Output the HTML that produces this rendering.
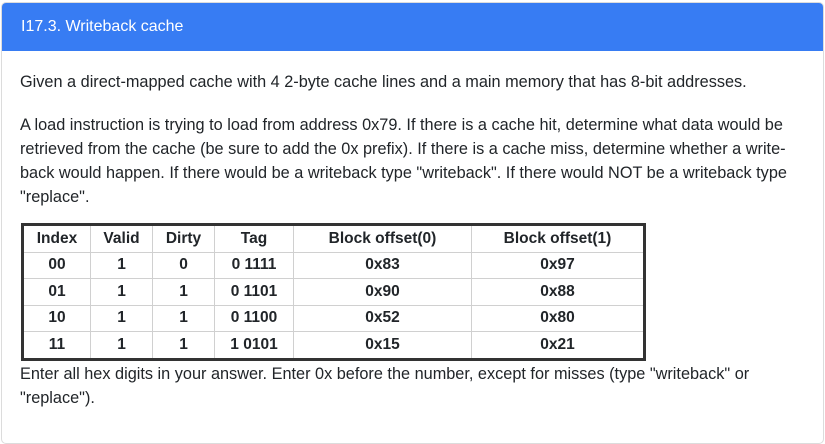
<!DOCTYPE html>
<html><head><style>
body{margin:0;width:825px;height:423px;background:#fff;font-family:"Liberation Sans",Arial,sans-serif;color:#212529;overflow:hidden;position:relative}
.card{position:absolute;left:1px;top:2px;width:821px;height:440px;border:1px solid #dcdcdc;border-radius:5px;overflow:hidden}
.hd{position:absolute;left:0;top:0;width:821px;height:48px;background:#377cf3;color:#fff;font-size:16px;line-height:48px;padding-left:19px;box-sizing:border-box}
.t{position:absolute;left:20px;font-size:16.3px;white-space:nowrap;line-height:24px}
table{position:absolute;left:21px;top:223px;border-collapse:collapse;border:3px solid #333;font-size:15.5px;font-weight:bold}
td{border:1px solid #d0d0d0;text-align:center;padding:0;height:25.5px}
</style></head><body>
<div class="card"><div class="hd">I17.3. Writeback cache</div></div>
<div class="t" style="top:70px">Given a direct-mapped cache with 4 2-byte cache lines and a main memory that has 8-bit addresses.</div>
<div class="t" style="top:113px">A load instruction is trying to load from address 0x79. If there is a cache hit, determine what data would be</div>
<div class="t" style="top:137px">retrieved from the cache (be sure to add the 0x prefix). If there is a cache miss, determine whether a write-</div>
<div class="t" style="top:161px">back would happen. If there would be a writeback type "writeback". If there would NOT be a writeback type</div>
<div class="t" style="top:185px">"replace".</div>
<table>
<tr><td style="width:66px">Index</td><td style="width:61px">Valid</td><td style="width:61px">Dirty</td><td style="width:78px">Tag</td><td style="width:177px">Block offset(0)</td><td style="width:171px">Block offset(1)</td></tr>
<tr><td>00</td><td>1</td><td>0</td><td>0 1111</td><td>0x83</td><td>0x97</td></tr>
<tr><td>01</td><td>1</td><td>1</td><td>0 1101</td><td>0x90</td><td>0x88</td></tr>
<tr><td>10</td><td>1</td><td>1</td><td>0 1100</td><td>0x52</td><td>0x80</td></tr>
<tr><td>11</td><td>1</td><td>1</td><td>1 0101</td><td>0x15</td><td>0x21</td></tr>
</table>
<div class="t" style="top:362px">Enter all hex digits in your answer. Enter 0x before the number, except for misses (type "writeback" or</div>
<div class="t" style="top:386px">"replace").</div>
</body></html>
